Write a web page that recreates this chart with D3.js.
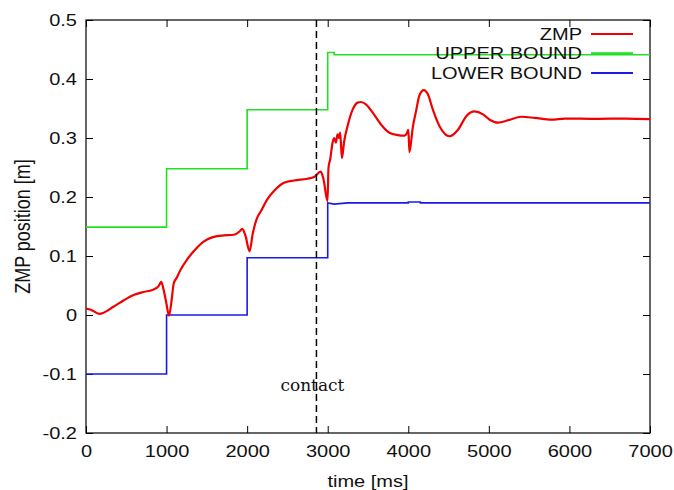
<!DOCTYPE html>
<html><head><meta charset="utf-8">
<script src="https://cdn.jsdelivr.net/npm/d3@7"></script>
<style>
html,body{margin:0;padding:0;background:#fff;}
svg{display:block;}
text{font-family:"Liberation Sans",Arial,sans-serif;}
</style>
</head><body>
<svg id="chart" width="674" height="490"></svg>
<script>
// ---- data ----
const xTicks = [0,1000,2000,3000,4000,5000,6000,7000];
const yTicks = [-0.2,-0.1,0,0.1,0.2,0.3,0.4,0.5];
const yTickLabels = ["-0.2","-0.1","0","0.1","0.2","0.3","0.4","0.5"];
const seriesNames = ["ZMP","UPPER BOUND","LOWER BOUND"];
const contactTime = 2860;
const contactLabel = "contact";

const zmpTime  = [0,60,166,340,465,590,714,838,901,934,963,996,1030,1059,1088,1129,1171,1254,1337,1420,1503,1586,1710,1834,1909,1939,1980,2030,2070,2125,2167,2250,2333,2457,2582,2748,2831,2914,2948,2997,3010,3031,3060,3080,3101,3122,3140,3155,3176,3205,3246,3309,3371,3412,3474,3558,3661,3765,3869,3951,3985,4001,4014,4056,4097,4138,4193,4243,4305,4388,4512,4617,4720,4823,4928,5010,5114,5239,5405,5571,5778,5944,6317,6700,7000];
const zmpValue = [0.011,0.009,0.002,0.014,0.0245,0.034,0.039,0.043,0.049,0.056,0.043,0.021,-0.001,0.021,0.053,0.064,0.076,0.094,0.108,0.12,0.128,0.1325,0.135,0.136,0.142,0.146,0.134,0.108,0.138,0.165,0.175,0.196,0.21,0.224,0.228,0.231,0.234,0.243,0.23,0.193,0.25,0.264,0.292,0.300,0.292,0.306,0.30,0.309,0.266,0.295,0.32,0.348,0.36,0.361,0.357,0.343,0.323,0.309,0.305,0.304,0.309,0.314,0.276,0.318,0.346,0.372,0.381,0.374,0.348,0.32,0.303,0.314,0.337,0.345,0.34,0.331,0.326,0.330,0.336,0.334,0.331,0.333,0.3325,0.333,0.332];

const upperTime  = [0,1000,1000,2000,2000,3000,3000,3080,3080,7000];
const upperValue = [0.149,0.149,0.248,0.248,0.348,0.348,0.445,0.445,0.441,0.441];

const lowerTime  = [0,1000,1000,2000,2000,3000,3000,3080,3250,4000,4000,4150,4150,7000];
const lowerValue = [-0.1,-0.1,0,0,0.097,0.097,0.19,0.188,0.19,0.19,0.1915,0.1915,0.19,0.19];

// ---- layout ----
const svg = d3.select("#chart");
const L = 86, T = 20, R = 650, B = 433;
const SX = 1.25; // horizontal stretch of the reference's lettering
const FS = 16;
const x = d3.scaleLinear().domain([0,7000]).range([L,R]);
const y = d3.scaleLinear().domain([-0.2,0.5]).range([B,T]);
const colors = ["#f00000","#22e022","#1a1ae6"];

svg.append("clipPath").attr("id","clip").append("rect")
  .attr("x",L).attr("y",T).attr("width",R-L).attr("height",B-T);

function stext(px, py, str, anchor, size, fam){
  return svg.append("text")
    .attr("transform",`translate(${px},${py}) scale(${SX},1)`)
    .attr("text-anchor",anchor).attr("font-size",size||FS).attr("fill","#111")
    .style("font-family",fam||"'Liberation Sans',Arial,sans-serif")
    .text(str);
}

const tickLen = 7;
const fmtY = d => yTickLabels[yTicks.indexOf(d)];
const gx = svg.append("g").attr("transform",`translate(0,${B})`)
  .call(d3.axisBottom(x).tickValues(xTicks).tickSizeInner(-tickLen).tickSizeOuter(0).tickPadding(13).tickFormat(d3.format("d")));
const gxt = svg.append("g").attr("transform",`translate(0,${T})`)
  .call(d3.axisTop(x).tickValues(xTicks).tickSizeInner(-tickLen).tickSizeOuter(0).tickFormat(""));
const gy = svg.append("g").attr("transform",`translate(${L},0)`)
  .call(d3.axisLeft(y).tickValues(yTicks).tickSizeInner(-tickLen).tickSizeOuter(0).tickPadding(9).tickFormat(fmtY));
const gyr = svg.append("g").attr("transform",`translate(${R},0)`)
  .call(d3.axisRight(y).tickValues(yTicks).tickSizeInner(-tickLen).tickSizeOuter(0).tickFormat(""));
[gx,gxt,gy,gyr].forEach(g=>{
  g.select(".domain").remove();
  g.selectAll(".tick line").attr("stroke","#000").attr("stroke-width",1);
  g.selectAll("text").attr("font-size",FS).attr("fill","#111")
   .style("font-family","'Liberation Sans',Arial,sans-serif")
   .attr("transform",`scale(${SX},1)`);
});
gx.selectAll("text").attr("dy","0.71em");
gy.selectAll("text").attr("x",-9/SX);

svg.append("rect").attr("x",L).attr("y",T).attr("width",R-L).attr("height",B-T)
  .attr("fill","none").attr("stroke","#000").attr("stroke-width",1.2);

// axis titles
stext((L+R)/2, 487, "time [ms]", "middle");
svg.append("text").attr("transform",`translate(22,${(T+B)/2}) rotate(-90) scale(1,${SX})`)
  .attr("text-anchor","middle").attr("dy","0.35em")
  .attr("font-size",18).attr("fill","#111").text("ZMP position [m]");

const mk = (ts,vs) => ts.map((t,i)=>[t,vs[i]]);
const lineSmooth = d3.line().x(d=>x(d[0])).y(d=>y(d[1])).curve(d3.curveMonotoneX);
const lineStep = d3.line().x(d=>x(d[0])).y(d=>y(d[1]));
const plot = svg.append("g").attr("clip-path","url(#clip)");

plot.append("path").attr("d",lineStep(mk(upperTime,upperValue)))
  .attr("fill","none").attr("stroke",colors[1]).attr("stroke-width",1.6);
plot.append("path").attr("d",lineStep(mk(lowerTime,lowerValue)))
  .attr("fill","none").attr("stroke",colors[2]).attr("stroke-width",1.6);

svg.append("line").attr("x1",x(contactTime)).attr("x2",x(contactTime))
  .attr("y1",T).attr("y2",B).attr("stroke","#000").attr("stroke-width",1.5)
  .attr("stroke-dasharray","7,4");
svg.append("text").attr("x",x(contactTime)-4).attr("y",391).attr("text-anchor","middle")
  .attr("font-size",17).attr("fill","#111")
  .style("font-family","'DejaVu Serif','Liberation Serif',serif").text(contactLabel);

plot.append("path").attr("d",lineSmooth(mk(zmpTime,zmpValue)))
  .attr("fill","none").attr("stroke",colors[0]).attr("stroke-width",2.2)
  .attr("stroke-linejoin","round");

// legend
const legY = [34,53.5,73];
seriesNames.forEach((n,i)=>{
  stext(582, legY[i]+5.5, n, "end");
  svg.append("line").attr("x1",591).attr("x2",633).attr("y1",legY[i]).attr("y2",legY[i])
    .attr("stroke",colors[i]).attr("stroke-width",i===1?2.5:1.8);
});
</script>
</body></html>
